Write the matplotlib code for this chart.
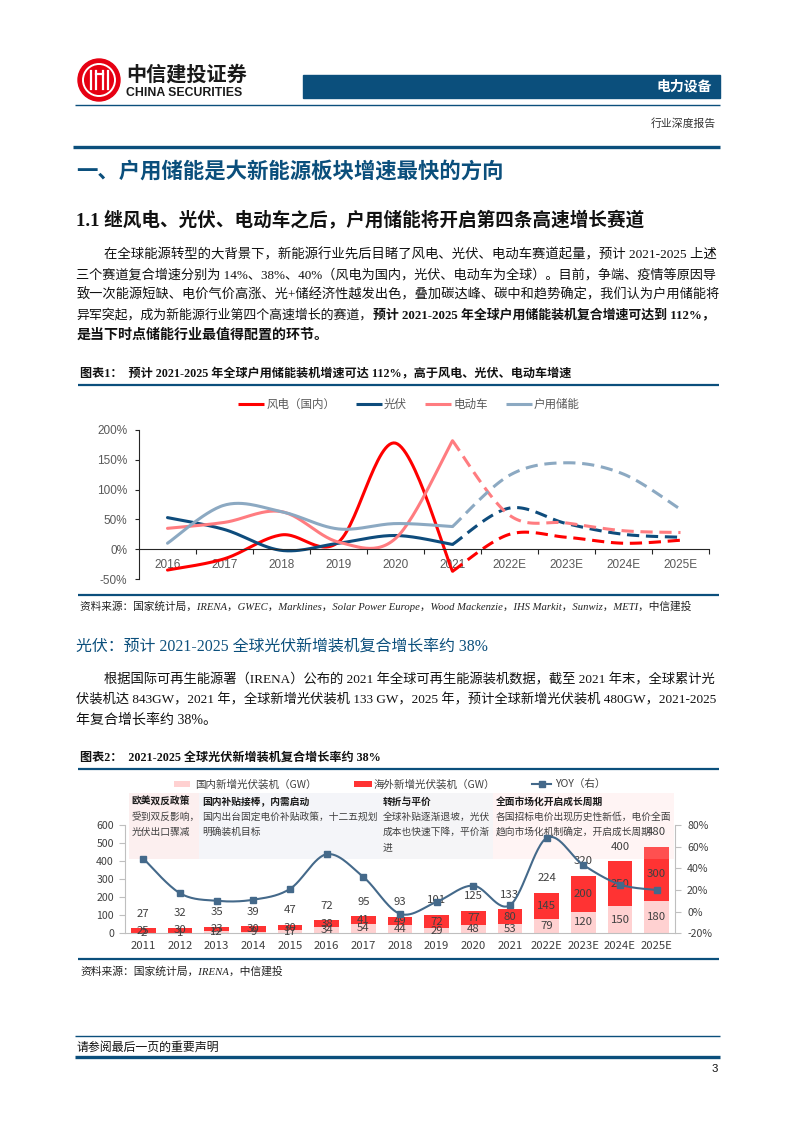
import numpy as np
import matplotlib
matplotlib.use('Agg')
import matplotlib.pyplot as plt
from matplotlib.patches import Rectangle, Circle
from matplotlib.ticker import FuncFormatter, FixedLocator

W, H = 793, 1122
CJK = 'Noto Sans CJK SC'
SERIF = ['Liberation Serif', CJK]
SANS = ['Liberation Sans', CJK]
NAVY = '#0B4F7C'

# ---------------- chart 1 data ----------------
years1 = ['2016', '2017', '2018', '2019', '2020', '2021', '2022E', '2023E', '2024E', '2025E']
wind1 = [-35, -16, 24, 12, 178, -37, 25, 20, 10, 15]
pv1 = [53, 33, -2, 10, 23, 8, 69, 43, 25, 20]
ev1 = [35, 45, 63, 12, 18, 182, 57, 44, 31, 28]
home1 = [10, 74, 63, 34, 43, 38, 124, 145, 126, 67]
names1 = ['风电（国内）', '光伏', '电动车', '户用储能']
colors1 = ['#FF0000', '#0E4C7C', '#FF7C80', '#8CA9C2']
yticks1 = [-50, 0, 50, 100, 150, 200]
n_actual1 = 6  # 2016-2021 solid, 2021-2025E dashed

# ---------------- chart 2 data ----------------
years2 = ['2011', '2012', '2013', '2014', '2015', '2016', '2017', '2018', '2019', '2020',
          '2021', '2022E', '2023E', '2024E', '2025E']
domestic2 = [2, 1, 12, 9, 17, 34, 54, 44, 29, 48, 53, 79, 120, 150, 180]
overseas2 = [25, 30, 23, 30, 30, 38, 41, 49, 72, 77, 80, 145, 200, 250, 300]
total2 = [27, 32, 35, 39, 47, 72, 95, 93, 101, 125, 133, 224, 320, 400, 480]
yoy2 = [49, 17, 10, 11, 21, 53, 32, -2, 9, 24, 6, 68, 43, 25, 20]
names2 = ['国内新增光伏装机（GW）', '海外新增光伏装机（GW）', 'YOY（右）']
yticks2_left = [0, 100, 200, 300, 400, 500, 600]
yticks2_right = [-20, 0, 20, 40, 60, 80]
C_DOM, C_OVS, C_YOY = '#FFD1D1', '#FF3333', '#44698A'

box_titles = ['欧美双反政策', '国内补贴接棒，内需启动', '转折与平价', '全面市场化开启成长周期']
box_lines = [['受到双反影响，', '光伏出口骤减'],
             ['国内出台固定电价补贴政策，十二五规划', '明确装机目标'],
             ['全球补贴逐渐退坡，光伏', '成本也快速下降，平价渐', '进'],
             ['各国招标电价出现历史性新低，电价全面', '趋向市场化机制确定，开启成长周期']]


def smooth(x, y, n=30):
    x = np.asarray(x, float)
    y = np.asarray(y, float)
    P = np.column_stack([x, y])
    Pm = np.vstack([P[0], P, P[-1]])
    t = np.linspace(0, 1, n)[:, None]
    out = []
    for i in range(len(P) - 1):
        p0, p3 = P[i], P[i + 1]
        c1 = p0 + (Pm[i + 2] - Pm[i]) / 6
        c2 = p3 - (Pm[i + 3] - Pm[i + 1]) / 6
        seg = (1 - t) ** 3 * p0 + 3 * (1 - t) ** 2 * t * c1 + 3 * (1 - t) * t ** 2 * c2 + t ** 3 * p3
        out.append(seg if i == 0 else seg[1:])
    out = np.vstack(out)
    return out[:, 0], out[:, 1]


fig = plt.figure(figsize=(W / 100, H / 100), dpi=100)
renderer = fig.canvas.get_renderer()
bg = fig.add_axes([0, 0, 1, 1])
bg.set_xlim(0, W)
bg.set_ylim(H, 0)
bg.axis('off')


def txt(x, y, s, size, family=CJK, **kw):
    kw.setdefault('va', 'center')
    return bg.text(x, y, s, fontsize=size, family=family, **kw)


def fit_parts(x0, x1, y, parts, size, family=SERIF, clamp=0.08, color='#111111', style='normal'):
    ts = [txt(x0, y, s, size, family=family, weight=w, color=color, style=style) for s, w in parts]
    tot = sum(t.get_window_extent(renderer).width for t in ts)
    f = min(max((x1 - x0) / tot, 1 - clamp), 1 + clamp)
    xx = x0
    for t in ts:
        t.set_fontsize(size * f)
        t.set_x(xx)
        xx += t.get_window_extent(renderer).width
    return ts


def hline(y, x0, x1, lw, color=NAVY):
    bg.plot([x0, x1], [y, y], color=color, lw=lw, solid_capstyle='butt')


# ---------------- header ----------------
bg.add_patch(Circle((99, 80), 21, color='#E60012'))
bg.add_patch(Circle((99, 80), 16, fill=False, ec='white', lw=1.4))
for dx in [-8.5, -3.5, 3.5, 8.5]:
    bg.plot([99 + dx, 99 + dx], [71, 89], color='white', lw=1.6)
bg.plot([95.5, 102.5], [74, 74], color='white', lw=1.6)
txt(126, 74, '中信建投证券', 14.5, weight='bold', color='#1a1a1a')
txt(126, 92.5, 'CHINA SECURITIES', 8.8, family='Liberation Sans', weight='bold', color='#1a1a1a')
bg.add_patch(Rectangle((303, 75), 417, 23, color=NAVY))
txt(712, 87, '电力设备', 10, weight='bold', color='white', ha='right')
hline(105, 75, 720, 1.0)
txt(716, 124, '行业深度报告', 7.8, color='#333333', ha='right')
hline(147, 73, 720, 2.4)

# ---------------- headings & paragraph 1 ----------------
txt(76, 171, '一、户用储能是大新能源板块增速最快的方向', 15.4, weight='bold', color=NAVY)
txt(76, 221, '1.1 继风电、光伏、电动车之后，户用储能将开启第四条高速增长赛道', 13.4,
    family=SERIF, weight='bold', color='#111111')

L, R = 76.5, 718
ys = [254.5 + 20.2 * i for i in range(5)]
fit_parts(104.5, R, ys[0], [('在全球能源转型的大背景下，新能源行业先后目睹了风电、光伏、电动车赛道起量，预计 2021-2025 上述', 'normal')], 10.08)
fit_parts(L, R, ys[1], [('三个赛道复合增速分别为 14%、38%、40%（风电为国内，光伏、电动车为全球）。目前，争端、疫情等原因导', 'normal')], 10.08)
fit_parts(L, R, ys[2], [('致一次能源短缺、电价气价高涨、光+储经济性越发出色，叠加碳达峰、碳中和趋势确定，我们认为户用储能将', 'normal')], 10.08)
fit_parts(L, R, ys[3], [('异军突起，成为新能源行业第四个高速增长的赛道，', 'normal'),
                        ('预计 2021-2025 年全球户用储能装机复合增速可达到 112%，', 'bold')], 10.08)
txt(L, ys[4], '是当下时点储能行业最值得配置的环节。', 10.08, family=SERIF, weight='bold', color='#111111')

# ---------------- figure 1 ----------------
fit_parts(80, 571, 374, [('图表1：  预计 2021-2025 年全球户用储能装机增速可达 112%，高于风电、光伏、电动车增速', 'bold')], 8.8, clamp=0.15)
hline(384.5, 78, 719, 1.6)

ax1 = fig.add_axes([139 / W, 1 - 579 / H, 570 / W, 149 / H])
ax1.set_facecolor('none')
x1 = np.arange(len(years1))
for vals, col in zip([wind1, pv1, ev1, home1], colors1):
    xs, yv = smooth(x1[:n_actual1], vals[:n_actual1])
    ax1.plot(xs, yv, color=col, lw=2.2, solid_capstyle='round')
    xs, yv = smooth(x1[n_actual1 - 1:], vals[n_actual1 - 1:])
    ax1.plot(xs, yv, color=col, lw=2.2, dashes=(4, 2.2))
ax1.set_xlim(-0.5, len(years1) - 0.5)
ax1.set_ylim(-50, 200)
for s in ['top', 'right']:
    ax1.spines[s].set_visible(False)
ax1.spines['bottom'].set_position(('data', 0))
for s in ['left', 'bottom']:
    ax1.spines[s].set_color('#262626')
    ax1.spines[s].set_linewidth(0.8)
ax1.set_xticks(x1)
ax1.set_xticklabels(years1, family='Liberation Sans', fontsize=8.5, color='#595959')
ax1.xaxis.set_minor_locator(FixedLocator(np.arange(0.5, len(years1), 1.0)))
ax1.tick_params(axis='x', which='major', length=0, pad=6.8)
ax1.tick_params(axis='x', which='minor', length=3.8, width=0.8, color='#262626', direction='out')
ax1.set_yticks(yticks1)
ax1.yaxis.set_major_formatter(FuncFormatter(lambda v, p: f'{v:.0f}%'))
ax1.tick_params(axis='y', length=3, width=0.8, color='#262626', pad=5.3, labelsize=8.5, labelcolor='#595959')
for lab in ax1.get_yticklabels():
    lab.set_family('Liberation Sans')

leg1 = [(238, 264, 266.5), (355.6, 381.7, 384), (425, 451, 453.5), (505.6, 531.7, 534)]
for (a, b, tx), name, col in zip(leg1, names1, colors1):
    bg.plot([a, b], [404, 404], color=col, lw=2.2, solid_capstyle='butt')
    txt(tx, 404, name, 8.3, color='#595959')

hline(595, 78, 719, 1.6)
fit_parts(80, 696, 606.7, [('资料来源：国家统计局，IRENA，GWEC，Marklines，Solar Power Europe，Wood Mackenzie，IHS Markit，Sunwiz，METI，中信建投', 'normal')],
          8.0, clamp=0.15, style='italic', color='#222222')

# ---------------- section 光伏 ----------------
fit_parts(76.5, 490, 648, [('光伏：预计 2021-2025 全球光伏新增装机复合增长率约 38%', 'normal')], 11.8, clamp=0.1, color=NAVY)
ys2 = [680, 699.8, 719.6]
fit_parts(104.5, R, ys2[0], [('根据国际可再生能源署（IRENA）公布的 2021 年全球可再生能源装机数据，截至 2021 年末，全球累计光', 'normal')], 10.08)
fit_parts(L, R, ys2[1], [('伏装机达 843GW，2021 年，全球新增光伏装机 133 GW，2025 年，预计全球新增光伏装机 480GW，2021-2025', 'normal')], 10.08)
txt(L, ys2[2], '年复合增长率约 38%。', 10.08, family=SERIF, color='#111111')

# ---------------- figure 2 ----------------
fit_parts(80, 382, 758, [('图表2：  2021-2025 全球光伏新增装机复合增长率约 38%', 'bold')], 8.8, clamp=0.15)
hline(769.3, 78, 719, 1.6)

ax2 = fig.add_axes([125 / W, 1 - 933.3 / H, 550 / W, 108.3 / H])
ax2.set_facecolor('none')
x2 = np.arange(len(years2))
bw = 0.67
ax2.bar(x2, domestic2, width=bw, color=C_DOM, zorder=2)
ax2.bar(x2, overseas2, bottom=domestic2, width=bw, color=C_OVS, zorder=2)
for i in range(len(years2)):
    ax2.text(x2[i], domestic2[i] / 2, str(domestic2[i]), ha='center', va='center',
             fontsize=8.2, family=CJK, color='#404040', zorder=6)
    ax2.text(x2[i], domestic2[i] + overseas2[i] / 2, str(overseas2[i]), ha='center', va='center',
             fontsize=8.2, family=CJK, color='#404040', zorder=6)
    ax2.annotate(str(total2[i]), (x2[i], total2[i]), xytext=(0, 10.5), textcoords='offset points',
                 ha='center', va='center', fontsize=8.2, family=CJK, color='#404040', zorder=6)
ax2.set_xlim(-0.5, len(years2) - 0.5)
ax2.set_ylim(0, 600)
for s in ['top', 'right']:
    ax2.spines[s].set_visible(False)
for s in ['left', 'bottom']:
    ax2.spines[s].set_color('#BFBFBF')
    ax2.spines[s].set_linewidth(0.8)
ax2.set_xticks(x2)
ax2.set_xticklabels(years2, family=CJK, fontsize=8.2, color='#404040')
ax2.tick_params(axis='x', length=0, pad=5.8)
ax2.set_yticks(yticks2_left)
ax2.tick_params(axis='y', length=4, width=0.8, color='#BFBFBF', pad=4, labelsize=7.6, labelcolor='#404040')
for lab in ax2.get_yticklabels():
    lab.set_family(CJK)

# annotation boxes (pixel coordinates of the page)
boxes = [(128.7, 199, '#FCEFEF', 1.0), (199, 379.6, '#F4F5F9', 1.0),
         (379.6, 492.6, '#F5F5F7', 1.0), (492.6, 674, '#FFC8C8', 0.2)]
for (a, b, col, al), title, lines in zip(boxes, box_titles, box_lines):
    ax2.add_patch(Rectangle((a, 793), b - a, 66, transform=bg.transData, color=col, alpha=al,
                            lw=0, zorder=3, clip_on=False))
    ax2.text(a + 3, 802, title, transform=bg.transData, fontsize=7, family=CJK, weight='bold',
             color='#1a1a1a', va='center', zorder=5, clip_on=False)
    for k, ln in enumerate(lines):
        ax2.text(a + 3, 817 + 15 * k, ln, transform=bg.transData, fontsize=7, family=CJK,
                 color='#404040', va='center', zorder=5, clip_on=False)

ax2r = ax2.twinx()
ax2r.set_ylim(-20, 80)
xs, yv = smooth(x2, yoy2)
ax2r.plot(xs, yv, color=C_YOY, lw=1.5, zorder=4)
ax2r.plot(x2, yoy2, 's', ms=4.2, color=C_YOY, zorder=5)
for s in ['top', 'left', 'bottom']:
    ax2r.spines[s].set_visible(False)
ax2r.spines['right'].set_color('#BFBFBF')
ax2r.spines['right'].set_linewidth(0.8)
ax2r.set_yticks(yticks2_right)
ax2r.yaxis.set_major_formatter(FuncFormatter(lambda v, p: f'{v:.0f}%'))
ax2r.tick_params(axis='y', length=4, width=0.8, color='#BFBFBF', pad=4.7, labelsize=7.6, labelcolor='#404040')
for lab in ax2r.get_yticklabels():
    lab.set_family(CJK)

# legend 2
bg.add_patch(Rectangle((174, 781), 16, 6, color=C_DOM, lw=0))
txt(195.6, 784.3, names2[0], 7.6, color='#404040')
bg.add_patch(Rectangle((353.5, 781), 18, 6, color=C_OVS, lw=0))
txt(374, 784.3, names2[1], 7.6, color='#404040')
bg.plot([532, 551], [784.3, 784.3], color=C_YOY, lw=1.5)
bg.plot([541.5], [784.3], 's', ms=4.2, color=C_YOY)
txt(555, 784.3, names2[2], 7.6, color='#404040')

hline(959, 78, 719, 1.6)
fit_parts(80, 284, 971.7, [('资料来源：国家统计局，IRENA，中信建投', 'normal')], 8.0, clamp=0.15,
          style='italic', color='#222222')

# ---------------- footer ----------------
hline(1036, 75, 720, 1.0)
txt(77, 1047.7, '请参阅最后一页的重要声明', 8.6, family=SERIF, color='#111111')
hline(1056.7, 75, 720, 2.4)
txt(718, 1069, '3', 8.2, family='Liberation Sans', color='#111111', ha='right')

fig.savefig('out.png', dpi=100)
